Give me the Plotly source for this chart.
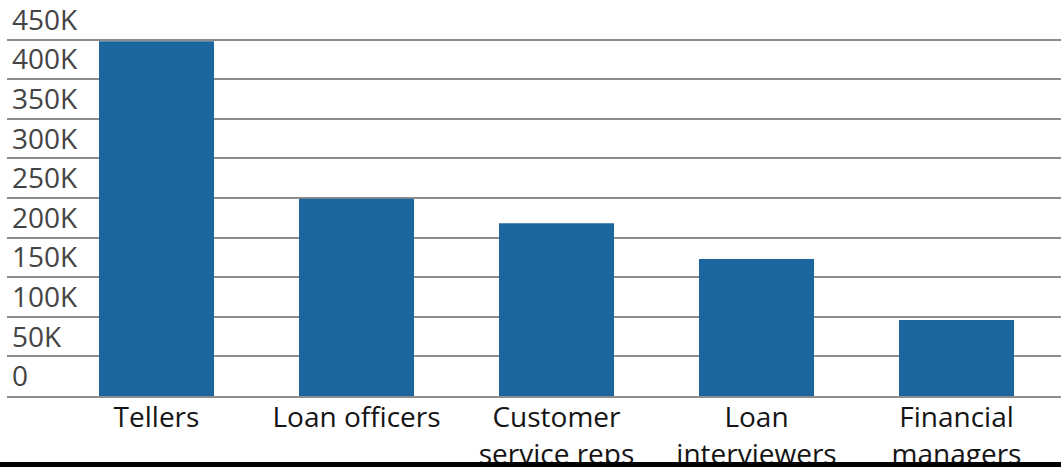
import plotly.graph_objects as go

categories = ["Tellers", "Loan officers", "Customer<br>service reps", "Loan<br>interviewers", "Financial<br>managers"]
values = [448000, 249000, 218000, 173000, 96000]
tick_vals = [0, 50000, 100000, 150000, 200000, 250000, 300000, 350000, 400000, 450000]
tick_text = ["0", "50K", "100K", "150K", "200K", "250K", "300K", "350K", "400K", "450K"]

W, H = 1061, 467
ML, MB = 7, 71
PH = H - MB

fig = go.Figure(go.Bar(x=list(range(len(categories))), y=values,
                       marker=dict(color="#1b669e", line=dict(width=0)),
                       width=0.575))

fig.update_layout(
    width=W, height=H,
    margin=dict(l=ML, r=0, t=0, b=MB, pad=0, autoexpand=False),
    plot_bgcolor="white", paper_bgcolor="white",
    font=dict(family="Open Sans", size=28, color="#141414"),
    showlegend=False,
    shapes=[dict(type="rect", xref="paper", yref="paper",
                 x0=-ML / (W - ML), x1=1.0,
                 y0=-MB / PH - 0.02, y1=-(462 - PH) / PH,
                 fillcolor="black", line=dict(width=0), layer="above")],
)
fig.update_xaxes(
    tickmode="array", tickvals=list(range(len(categories))), ticktext=categories,
    range=[-0.7475, 4.5225], showgrid=False, zeroline=False, automargin=False,
    showline=True, linecolor="#8c8c8c", linewidth=1.5, ticks="",
    ticklabelstandoff=-4,
)
fig.update_yaxes(
    tickmode="array", tickvals=tick_vals, ticktext=tick_text, automargin=False,
    range=[0, 500000], showgrid=True, gridcolor="#8c8c8c", gridwidth=1.5,
    zeroline=False, showline=False, ticks="", ticklabelposition="inside top",
    ticklabeloverflow="allow", ticklabelstandoff=2,
)

fig.write_html("out.html", config={"displayModeBar": False},
               post_script="document.body.style.margin='0';document.body.style.overflow='hidden';")
